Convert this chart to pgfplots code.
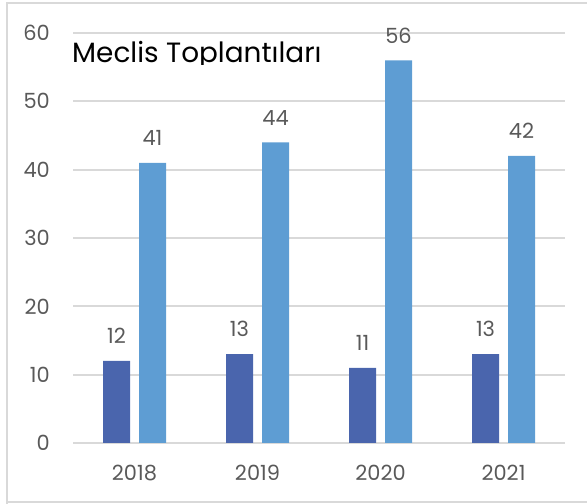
\documentclass[border=0pt]{standalone}
\usepackage{fontspec}
\setmainfont{Poppins}
\usepackage{pgfplots}
\pgfplotsset{compat=1.18}
\definecolor{darkbar}{HTML}{4A65AD}
\definecolor{lightbar}{HTML}{5E9DD3}
\definecolor{gridgray}{HTML}{D9D9D9}
\definecolor{txtgray}{HTML}{595959}
\begin{document}
\begin{tikzpicture}[x=1bp,y=1bp]
\useasboundingbox (0,0) rectangle (587,504);
\draw[gridgray,line width=1.5bp] (7,-5) -- (7,501) -- (600,501);
\draw[gridgray,line width=1.5bp] (7,2) -- (600,2);
\begin{axis}[
  at={(73bp,61bp)}, anchor=south west,
  scale only axis, width=492bp, height=410bp,
  xmin=-0.5, xmax=3.5, ymin=0, ymax=60,
  enlarge x limits=false, enlarge y limits=false,
  ybar=9bp, bar width=27bp,
  axis line style={draw=none},
  axis x line*=bottom,
  xtick={0,1,2,3}, xticklabels={2018,2019,2020,2021},
  ytick={0,10,...,60},
  ymajorgrids, grid style={gridgray,line width=1.8bp},
  major tick length=0pt,
  /pgf/number format/assume math mode=true,
  tick label style={font=\fontsize{21}{23}\selectfont, text=txtgray, inner sep=0pt},
  yticklabel style={xshift=-23bp},
  xticklabel style={yshift=-22bp},
  nodes near coords,
  every node near coord/.append style={font=\fontsize{21}{23}\selectfont, text=txtgray, anchor=south, inner sep=0pt, yshift=17bp},
]
\addplot[fill=darkbar, draw=none] coordinates {(0,12) (1,13) (2,11) (3,13)};
\addplot[fill=lightbar, draw=none] coordinates {(0,41) (1,44) (2,56) (3,42)};
\end{axis}
\begin{scope}
\clip (60,439) rectangle (420,495);
\node[anchor=base west, inner sep=0pt, font=\fontsize{28}{30}\selectfont] at (72,441) {Meclis Toplantıları};
\end{scope}
\end{tikzpicture}
\end{document}
